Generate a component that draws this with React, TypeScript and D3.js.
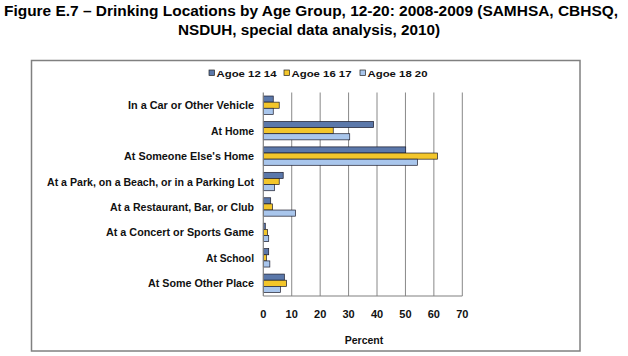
import React from "react";
import * as d3 from "d3";

const categories = [
  "In a Car or Other Vehicle",
  "At Home",
  "At Someone Else's Home",
  "At a Park, on a Beach, or in a Parking Lot",
  "At a Restaurant, Bar, or Club",
  "At a Concert or Sports Game",
  "At School",
  "At Some Other Place",
];
const seriesNames = ["Agoe 12 14", "Agoe 16 17", "Agoe 18 20"];
const age1214 = [3.5, 38.8, 50.1, 7.0, 2.6, 0.7, 1.9, 7.4];
const age1617 = [5.6, 24.6, 61.3, 5.6, 3.2, 1.5, 1.1, 8.2];
const age1820 = [3.5, 30.4, 54.2, 3.9, 11.3, 1.9, 2.3, 6.0];
const xTicks = [0, 10, 20, 30, 40, 50, 60, 70];
const colors = ["#5B78AA", "#F3C62B", "#A9C6EC"];
const labelWidths = [126, 43, 130, 207, 144, 148, 48, 106];

export default function App() {
  const series = [age1214, age1617, age1820];
  const x = d3.scaleLinear().domain([0, 70]).range([263.3, 462.3]);
  const y = d3.scaleBand<string>().domain(categories).range([92.5, 296]).paddingInner(0).paddingOuter(0);
  const groupH = 18.4;
  const inner = d3.scaleBand<number>().domain([0, 1, 2]).range([0, groupH]);
  const font = "'Liberation Sans', Arial, sans-serif";
  const legendX = [209, 284, 360];
  return (
    <svg width={628} height={356} style={{ position: "absolute", left: 0, top: 0, background: "#fff" }} fontFamily={font}>
      <rect x={0} y={0} width={628} height={356} fill="#fff" />
      <text x={4} y={15.7} fontSize={14} fontWeight="bold" fill="#000" textLength={614} lengthAdjust="spacingAndGlyphs">
        Figure E.7 – Drinking Locations by Age Group, 12-20: 2008-2009 (SAMHSA, CBHSQ,
      </text>
      <text x={178} y={34.7} fontSize={14} fontWeight="bold" fill="#000" textLength={262} lengthAdjust="spacingAndGlyphs">
        NSDUH, special data analysis, 2010)
      </text>
      <rect x={31.5} y={60.5} width={548.5} height={290.5} fill="none" stroke="#808080" strokeWidth={1.5} />
      {/* legend */}
      {seriesNames.map((n, i) => (
        <g key={n}>
          <rect x={legendX[i]} y={70} width={5.5} height={5.5} fill={colors[i]} stroke="#222" strokeWidth={0.7} />
          <text x={legendX[i] + 7.5} y={76.6} fontSize={9.5} fontWeight="bold" fill="#111" textLength={60} lengthAdjust="spacingAndGlyphs">
            {n}
          </text>
        </g>
      ))}
      {/* gridlines */}
      {xTicks.slice(1).map((t) => (
        <line key={t} x1={x(t)} x2={x(t)} y1={92.5} y2={296} stroke="#888" strokeWidth={1} />
      ))}
      {/* bars */}
      {categories.map((c, ci) => (
        <g key={c}>
          {series.map((s, si) => (
            <rect
              key={si}
              x={x(0)}
              y={(y(c) as number) + (y.bandwidth() - groupH) / 2 + (inner(si) as number)}
              width={x(s[ci]) - x(0)}
              height={inner.bandwidth()}
              fill={colors[si]}
              stroke="#1a1a2a"
              strokeWidth={0.7}
            />
          ))}
          <text
            x={254}
            y={(y(c) as number) + y.bandwidth() / 2 + 4}
            textAnchor="end"
            fontSize={10.5}
            fontWeight="bold"
            fill="#111"
            textLength={labelWidths[ci]}
            lengthAdjust="spacingAndGlyphs"
          >
            {c}
          </text>
        </g>
      ))}
      {/* axes */}
      <line x1={x(0)} x2={x(0)} y1={92.5} y2={296} stroke="#808080" strokeWidth={1.2} />
      <line x1={x(0)} x2={x(70)} y1={296} y2={296} stroke="#808080" strokeWidth={1.2} />
      {xTicks.map((t) => (
        <text key={t} x={x(t)} y={318} textAnchor="middle" fontSize={11} fontWeight="bold" fill="#111">
          {t}
        </text>
      ))}
      <text x={364} y={344} textAnchor="middle" fontSize={10.5} fontWeight="bold" fill="#111">
        Percent
      </text>
    </svg>
  );
}
